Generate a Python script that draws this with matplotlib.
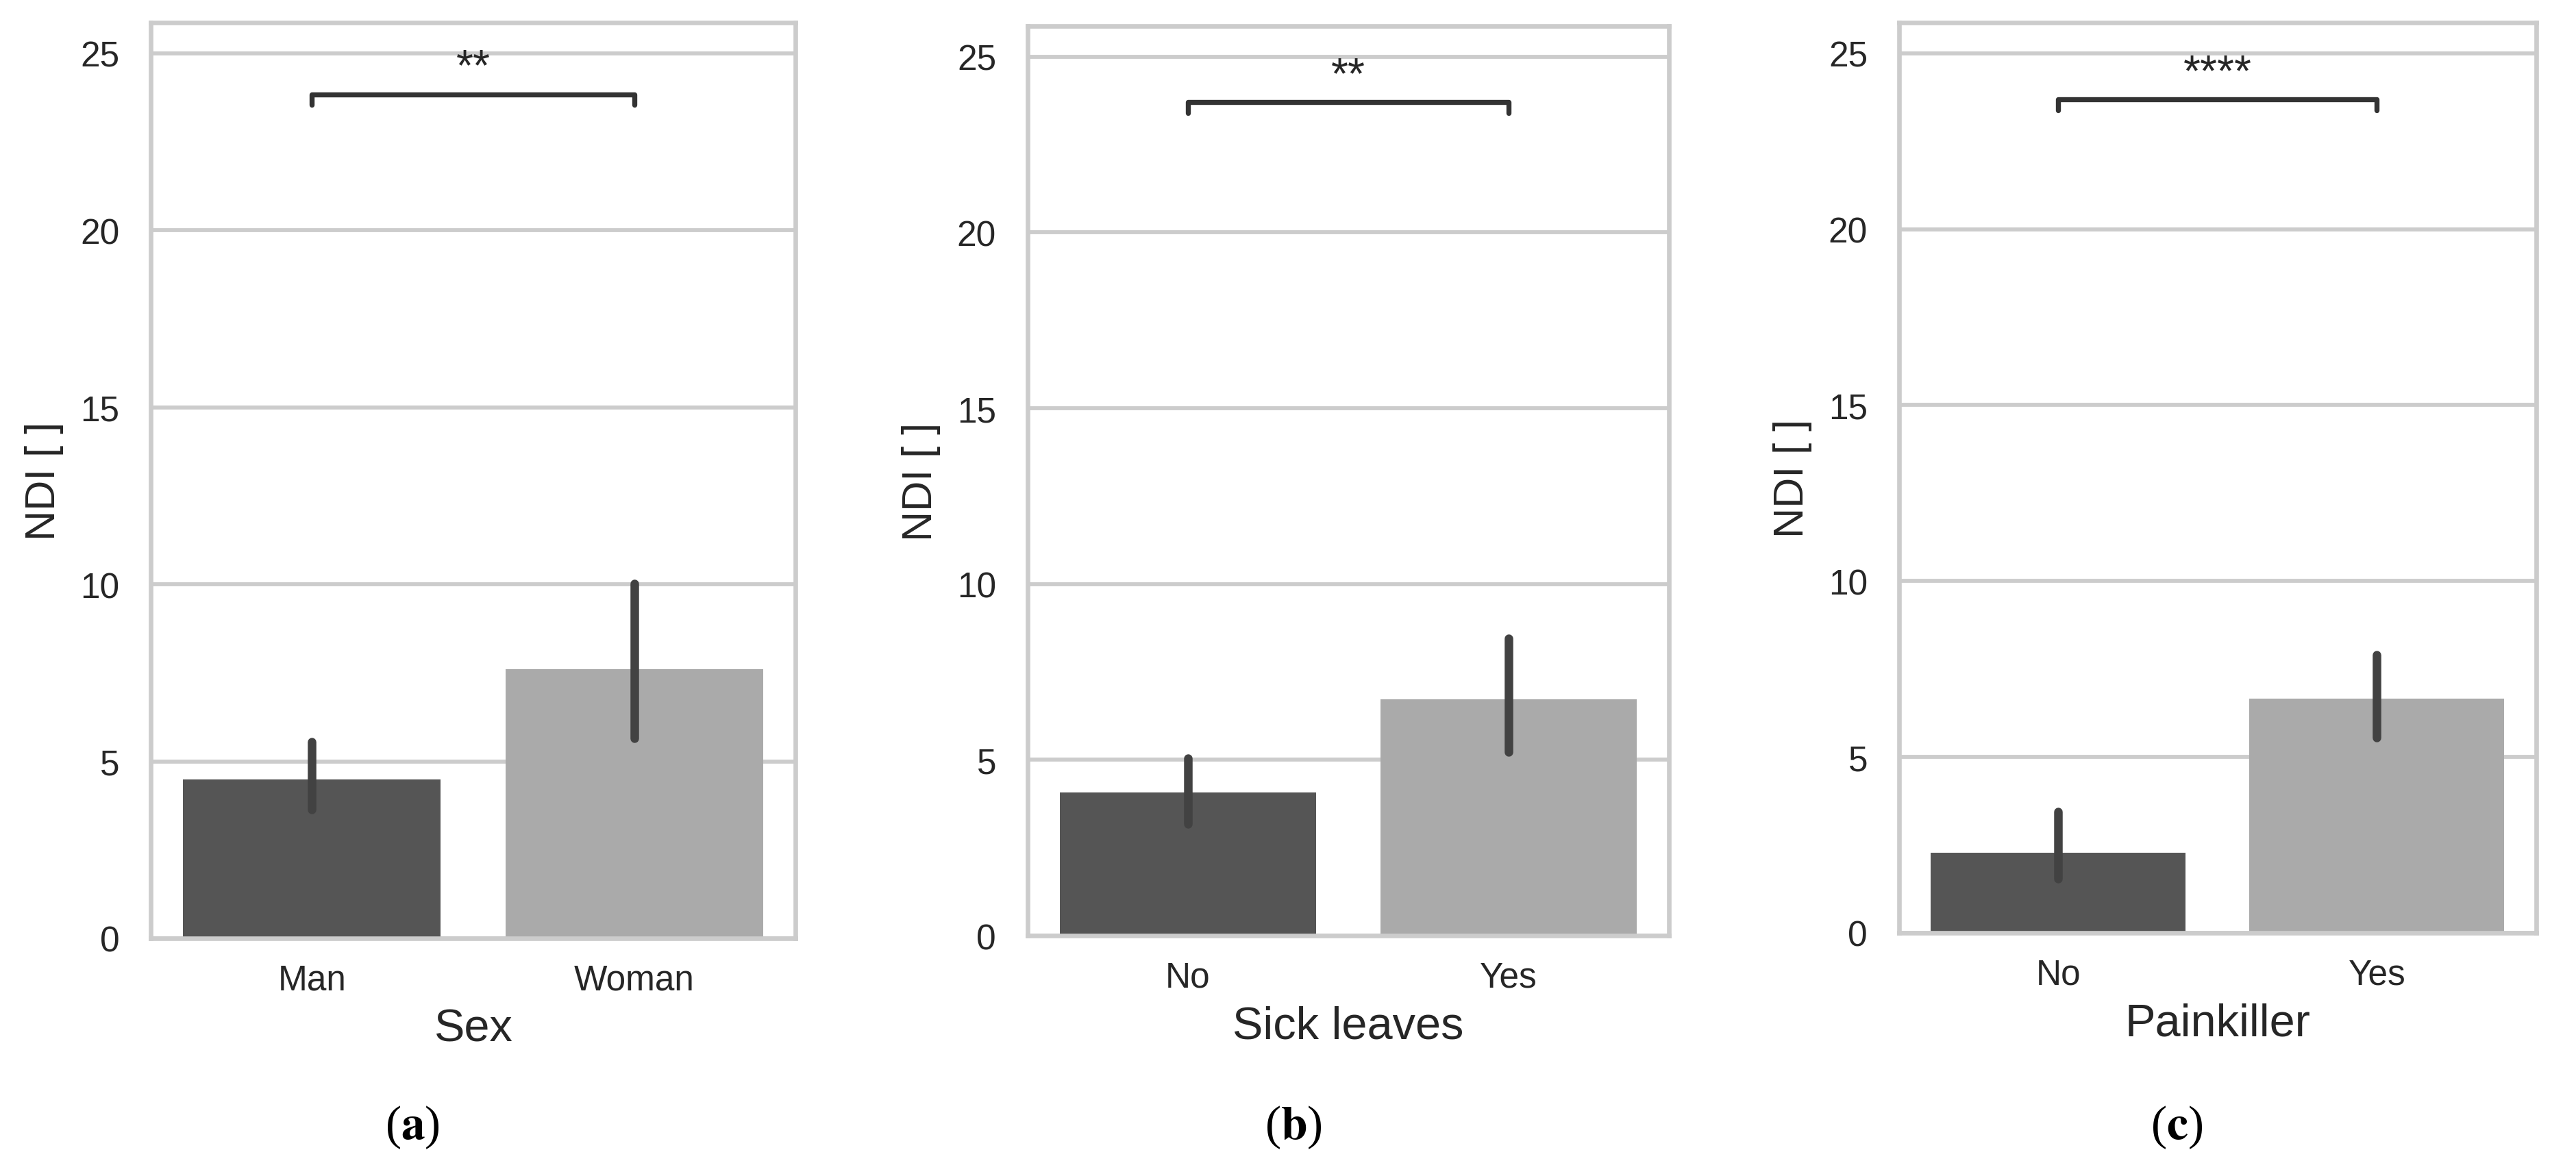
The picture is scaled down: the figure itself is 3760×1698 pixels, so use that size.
import matplotlib.pyplot as plt
import numpy as np

plt.rcParams['font.family'] = ['Liberation Sans', 'DejaVu Sans']
plt.rcParams['mathtext.fontset'] = 'stix'

# data
panels = ['a', 'b', 'c']
xlabels = ['Sex', 'Sick leaves', 'Painkiller']
cats = [['Man', 'Woman'], ['No', 'Yes'], ['No', 'Yes']]
means = [[4.48, 7.61], [4.07, 6.73], [2.28, 6.65]]
ci_low = [[3.63, 5.64], [3.17, 5.22], [1.54, 5.55]]
ci_high = [[5.55, 10.02], [5.05, 8.45], [3.44, 7.91]]
sig_y = [23.84, 23.70, 23.68]
sig_txt = ['**', '**', '****']

bar_colors = ['#555555', '#aaaaaa']
txt_col = '#262626'

fig = plt.figure(figsize=(37.6, 16.99), dpi=100)
# axes boxes in figure fractions: left, bottom, width, top
boxes = [(0.0585, 0.1931, 0.2503, 0.980),
         (0.3989, 0.1954, 0.2489, 0.977),
         (0.7372, 0.1978, 0.2473, 0.980)]
lab_x = [0.1600, 0.502, 0.845]

for i in range(3):
    l, b, w, t = boxes[i]
    ax = fig.add_axes([l, b, w, t - b])
    x = np.arange(2)
    ax.bar(x, means[i], width=0.8, color=bar_colors, zorder=2)
    for j in range(2):
        ax.plot([x[j], x[j]], [ci_low[i][j], ci_high[i][j]], color='#424242',
                lw=9, solid_capstyle='round', zorder=3)
    # significance bracket
    h = 0.3
    ax.plot([0, 0, 1, 1], [sig_y[i] - h, sig_y[i], sig_y[i], sig_y[i] - h],
            color='#333333', lw=5.3, solid_capstyle='round',
            solid_joinstyle='round', zorder=3)
    ax.text(0.5, sig_y[i] + 0.42, sig_txt[i], ha='center', va='baseline',
            fontsize=46, color=txt_col)

    ax.set_xlim(-0.5, 1.5)
    ax.set_ylim(0, 25.87)
    ax.set_yticks([0, 5, 10, 15, 20, 25])
    ax.set_xticks(x)
    ax.set_xticklabels(cats[i])
    ax.yaxis.grid(True, color='#cccccc', lw=4.2, zorder=0)
    ax.set_axisbelow(True)
    for s in ax.spines.values():
        s.set_color('#cccccc')
        s.set_linewidth(4.8)
    ax.tick_params(axis='both', length=0, labelsize=37, colors=txt_col)
    ax.tick_params(axis='y', pad=33)
    ax.tick_params(axis='x', pad=26)
    ax.set_xlabel(xlabels[i], fontsize=48, color=txt_col, labelpad=12)
    ax.set_ylabel('NDI [ ]', fontsize=44, color=txt_col, labelpad=17)

    fig.text(lab_x[i], 0.031, '(' + r'$\mathbf{' + panels[i] + '}$' + ')',
             ha='center', va='center', fontsize=50, family='Liberation Serif',
             color='black')

fig.savefig('out.png', dpi=100, facecolor='white')
